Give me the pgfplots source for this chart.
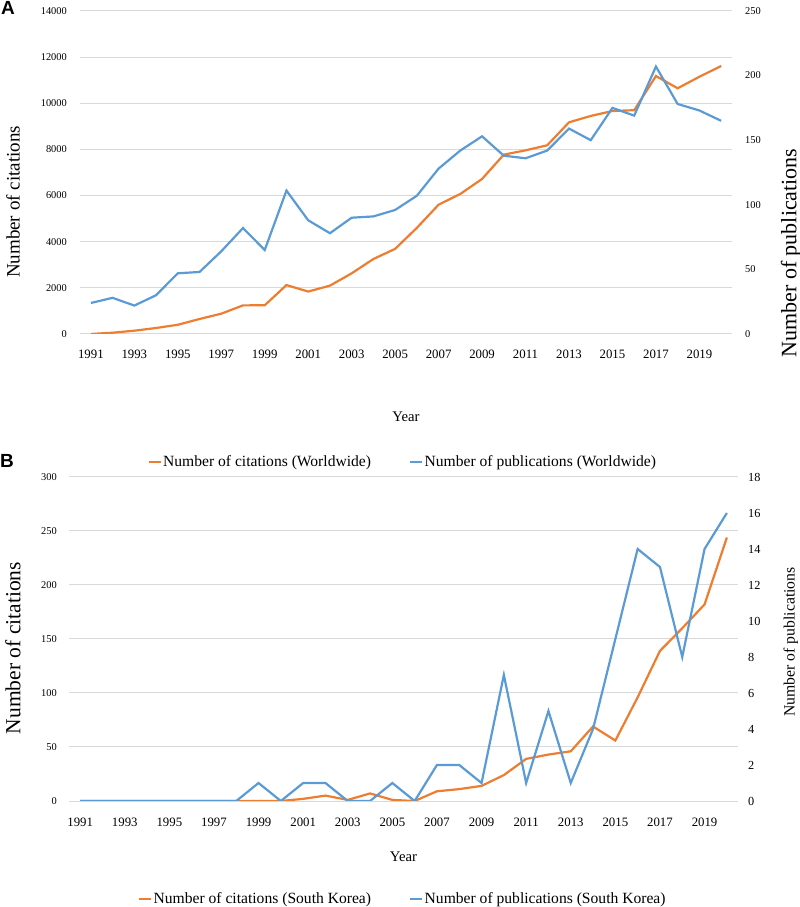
\documentclass[border=0pt]{standalone}
\usepackage{fontspec}
\setmainfont{Liberation Serif}
\newfontfamily\arialf{Liberation Sans}
\usepackage{pgfplots}
\pgfplotsset{compat=1.18}
\definecolor{xlorange}{HTML}{ED7D31}
\definecolor{xlblue}{HTML}{5B9BD5}
\definecolor{gridc}{HTML}{D9D9D9}
\newcommand\fsz[1]{\fontsize{#1}{#1}\selectfont}

\pgfplotsset{
  base/.style={scale only axis, anchor=south west, xmin=1990.5, xmax=2020.5, ymin=0,
    axis line style={draw=none}, tick style={draw=none},
    /pgf/number format/assume math mode=true, /pgf/number format/1000 sep={},
    scaled ticks=false},
  leg/.style={legend style={at={(axis description cs:#1)}, anchor=center, draw=none, fill=none,
    font=\fsz{15.6bp}, legend columns=2, inner sep=0pt,
    /tikz/every even column/.append style={column sep=37bp}, nodes={inner sep=1.2bp}},
    legend image code/.code={\draw[##1, line width=2.2bp] (0bp,0bp) -- (12bp,0bp);}},
}

\pgfplotstableread{
year cit pub
1991 0 24
1992 56 28
1993 143 22
1994 260 30
1995 400 47
1996 650 48
1997 880 64
1998 1240 82
1999 1245 65
2000 2120 111
2001 1840 88
2002 2095 78
2003 2630 90
2004 3250 91
2005 3690 96
2006 4600 107
2007 5605 128
2008 6070 142
2009 6720 153
2010 7775 138
2011 7960 136
2012 8180 142
2013 9175 159
2014 9450 150
2015 9666 175
2016 9700 169
2017 11180 207
2018 10650 178
2019 11150 173
2020 11615 165
}\worldtab

\pgfplotstableread{
year cit pub
1991 0 0
1992 0 0
1993 0 0
1994 0 0
1995 0 0
1996 0 0
1997 0 0
1998 0 0
1999 0 1
2000 0 0
2001 2 1
2002 5 1
2003 1 0
2004 7 0
2005 1 1
2006 0 0
2007 9 2
2008 11 2
2009 14 1
2010 24 7
2011 39 1
2012 43 5
2013 46 1
2014 69 4
2015 56 9
2016 96 14
2017 139 13
2018 160 8
2019 182 14
2020 244 16
}\koreatab

\begin{document}
\begin{tikzpicture}
\useasboundingbox (0,0) rectangle (800bp,907bp);

% ---------------- Panel A ----------------
\begin{axis}[base, at={(80bp,573bp)}, width=652bp, height=323bp,
  ymax=14000, ytick={0,2000,...,14000}, xtick={1991,1993,...,2019},
  ymajorgrids, major grid style={gridc, line width=1bp},
  yticklabel style={font=\fsz{10.4bp}, anchor=east, inner sep=0pt, xshift=-13bp},
  xticklabel style={font=\fsz{12.8bp}, anchor=base, inner sep=0pt, yshift=-25bp},
  xlabel={Year}, xlabel style={font=\fsz{14.7bp}, at={(axis description cs:0.5,0)}, anchor=center, yshift=-83bp, inner sep=0pt},
  ylabel={Number of citations}, ylabel style={font=\fsz{19bp}, at={(axis description cs:-0.1028,0.4087)}, anchor=center, inner sep=0pt}]
\addplot[xlorange, line width=2.2bp] table[x=year, y=cit] {\worldtab};
\end{axis}
\begin{axis}[base, at={(80bp,573bp)}, width=652bp, height=323bp,
  ymax=250, ytick={0,50,...,250}, axis y line*=right, axis x line=none,
  yticklabel style={font=\fsz{10.4bp}, anchor=west, inner sep=0pt, xshift=13bp},
  ylabel={Number of publications}, ylabel style={font=\fsz{22bp}, at={(axis description cs:1.0905,0.2508)}, anchor=center, inner sep=0pt},
  leg={0.4946,-0.396}]
\addlegendimage{xlorange}
\addlegendentry{Number of citations (Worldwide)}
\addplot[xlblue, line width=2.2bp] table[x=year, y=pub] {\worldtab};
\addlegendentry{Number of publications (Worldwide)}
\end{axis}

% ---------------- Panel B ----------------
\begin{axis}[base, at={(69bp,106bp)}, width=669bp, height=324bp,
  ymax=300, ytick={0,50,...,300}, xtick={1991,1993,...,2019},
  ymajorgrids, major grid style={gridc, line width=1bp},
  yticklabel style={font=\fsz{10.4bp}, anchor=east, inner sep=0pt, xshift=-12bp},
  xticklabel style={font=\fsz{12.8bp}, anchor=base, inner sep=0pt, yshift=-25bp},
  xlabel={Year}, xlabel style={font=\fsz{14.7bp}, at={(axis description cs:0.5,0)}, anchor=center, yshift=-56bp, inner sep=0pt},
  ylabel={Number of citations}, ylabel style={font=\fsz{21.5bp}, at={(axis description cs:-0.0837,0.472)}, anchor=center, inner sep=0pt}]
\addplot[xlorange, line width=2.2bp] table[x=year, y=cit] {\koreatab};
\end{axis}
\begin{axis}[base, at={(69bp,106bp)}, width=669bp, height=324bp,
  ymax=18, ytick={0,2,...,18}, axis y line*=right, axis x line=none,
  yticklabel style={font=\fsz{12.3bp}, anchor=west, inner sep=0pt, xshift=10bp},
  ylabel={Number of publications}, ylabel style={font=\fsz{15.7bp}, at={(axis description cs:1.079,0.491)}, anchor=center, inner sep=0pt},
  leg={0.4985,-0.302}]
\addlegendimage{xlorange}
\addlegendentry{Number of citations (South Korea)}
\addplot[xlblue, line width=2.2bp] table[x=year, y=pub] {\koreatab};
\addlegendentry{Number of publications (South Korea)}
\end{axis}

\node[font=\arialf\bfseries\fsz{19bp}] at (8bp,899bp) {A};
\node[font=\arialf\bfseries\fsz{19bp}] at (7bp,446bp) {B};
\end{tikzpicture}
\end{document}
